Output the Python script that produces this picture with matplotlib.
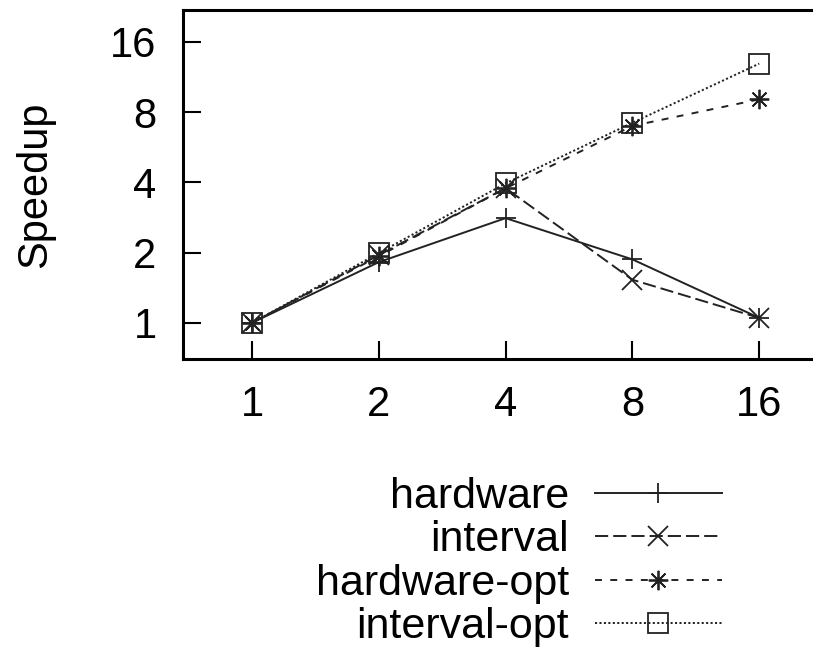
import numpy as np
import matplotlib
matplotlib.use("Agg")
from matplotlib import pyplot as plt
from matplotlib.ticker import FixedLocator, NullLocator

plt.rcParams["font.family"] = ["Liberation Sans", "DejaVu Sans"]
plt.rcParams["lines.scale_dashes"] = False

threads = [1, 2, 4, 8, 16]
hardware = [1.0, 1.82, 2.81, 1.87, 1.05]
interval = [1.0, 1.95, 3.78, 1.53, 1.05]
hardware_opt = [1.0, 1.93, 3.77, 6.98, 9.07]
interval_opt = [1.0, 1.99, 3.96, 7.2, 12.9]
ticks = [1, 2, 4, 8, 16]

series = [
    ("hardware", hardware, "-", "+"),
    ("interval", interval, (0, (9.5, 3.6)), "x"),
    ("hardware-opt", hardware_opt, (0, (5, 6)), (8, 2, 0)),
    ("interval-opt", interval_opt, (0, (1.5, 1.7)), "s"),
]

fig = plt.figure(figsize=(8.13, 6.47), dpi=100)
ax = fig.add_axes([183 / 813, 1 - 359 / 647, 645 / 813, 349 / 647])

for name, vals, ls, mk in series:
    ax.plot(threads, vals, linestyle=ls, marker=mk, color="#222222", lw=1.4,
            markersize=14, markeredgewidth=1.3, markerfacecolor="none",
            label=name)

ax.set_xscale("log", base=2)
ax.set_yscale("log", base=2)
ax.set_xlim(0.686, 23.3)
ax.set_ylim(0.70, 21.9)
ax.xaxis.set_major_locator(FixedLocator(ticks))
ax.yaxis.set_major_locator(FixedLocator(ticks))
ax.xaxis.set_minor_locator(NullLocator())
ax.yaxis.set_minor_locator(NullLocator())
ax.set_xticklabels([str(t) for t in ticks])
ax.set_yticklabels([str(t) for t in ticks])
ax.tick_params(direction="in", length=13, width=1.5, labelsize=30, pad=19)
for s in ax.spines.values():
    s.set_linewidth(2.2)

ax.set_ylabel("Speedup", fontsize=30)
ax.yaxis.set_label_coords(-0.198, 0.5)

fig.legend(loc="center right", bbox_to_anchor=(722 / 813, 1 - 562 / 647),
           markerfirst=False, frameon=False, fontsize=31, numpoints=1,
           handlelength=2.95, handletextpad=0.6, labelspacing=0.08,
           borderpad=0, borderaxespad=0)

fig.savefig("out.png", dpi=100)
